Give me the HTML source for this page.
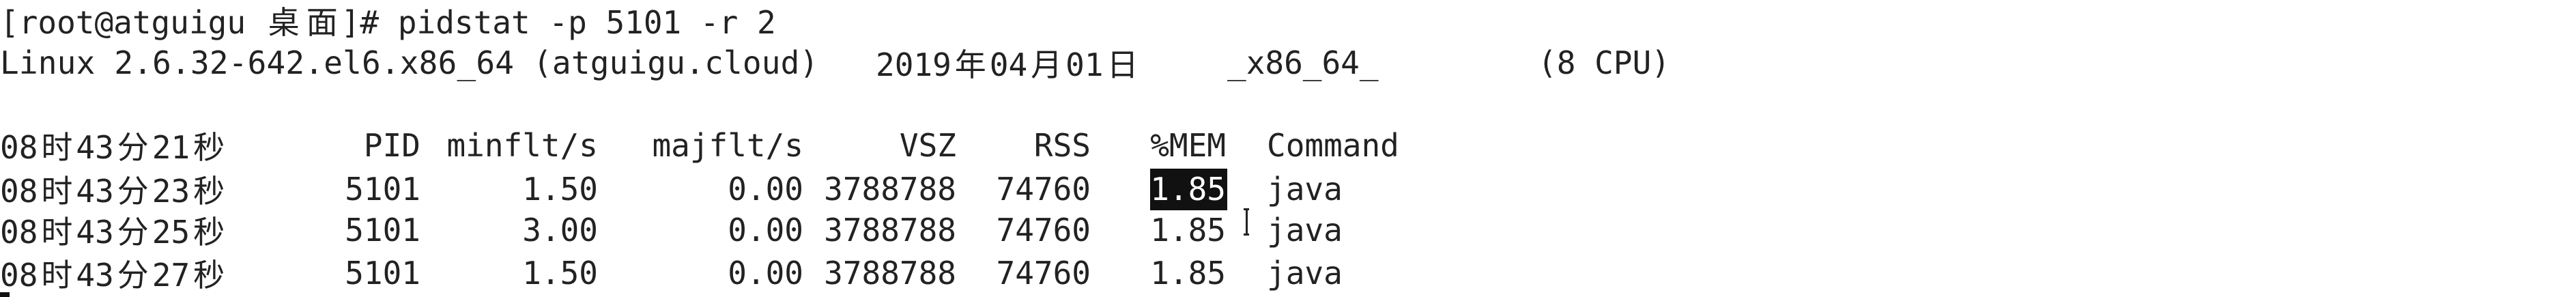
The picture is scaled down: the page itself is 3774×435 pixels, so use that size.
<!DOCTYPE html>
<html><head><meta charset="utf-8"><style>
html,body{margin:0;padding:0;background:#fff;}
body{width:3774px;height:435px;position:relative;overflow:hidden;font-family:"DejaVu Sans Mono","Liberation Mono","Noto Sans CJK SC",monospace;font-size:46px;color:#222;}
.t{position:absolute;white-space:pre;line-height:62px;height:62px;}
.r{position:absolute;white-space:pre;line-height:62px;height:62px;text-align:right;}
.cjk{font-family:"Noto Sans CJK SC","WenQuanYi Zen Hei",sans-serif;display:inline-block;width:56px;text-align:center;}
</style></head><body>
<div class="t" style="left:0;top:-1px;">[root@atguigu <span class="cjk">桌</span><span class="cjk">面</span>]# pidstat -p 5101 -r 2</div>
<div class="t" style="left:0;top:61px;letter-spacing:0.2px;">Linux 2.6.32-642.el6.x86_64 (atguigu.cloud)</div>
<div class="t" style="left:1283px;top:61px;">2019<span class="cjk">年</span>04<span class="cjk">月</span>01<span class="cjk">日</span></div>
<div class="t" style="left:1798px;top:61px;">_x86_64_</div>
<div class="t" style="left:2253px;top:61px;">(8 CPU)</div>

<div class="t" style="left:0;top:182px;">08<span class="cjk">时</span>43<span class="cjk">分</span>21<span class="cjk">秒</span></div>
<div class="r" style="right:3158px;top:182px;">PID</div>
<div class="r" style="right:2898px;top:182px;">minflt/s</div>
<div class="r" style="right:2597px;top:182px;">majflt/s</div>
<div class="r" style="right:2373px;top:182px;">VSZ</div>
<div class="r" style="right:2176px;top:182px;">RSS</div>
<div class="r" style="right:1978px;top:182px;">%MEM</div>
<div class="t" style="left:1856px;top:182px;">Command</div>

<div style="position:absolute;left:1685px;top:247px;width:113px;height:61px;background:#111;"></div>

<div class="t" style="left:0;top:246px;">08<span class="cjk">时</span>43<span class="cjk">分</span>23<span class="cjk">秒</span></div>
<div class="r" style="right:3158px;top:246px;">5101</div>
<div class="r" style="right:2898px;top:246px;">1.50</div>
<div class="r" style="right:2597px;top:246px;">0.00</div>
<div class="r" style="right:2373px;top:246px;">3788788</div>
<div class="r" style="right:2176px;top:246px;">74760</div>
<div class="r" style="right:1978px;top:246px;color:#fff;">1.85</div>
<div class="t" style="left:1856px;top:246px;">java</div>

<div class="t" style="left:0;top:306px;">08<span class="cjk">时</span>43<span class="cjk">分</span>25<span class="cjk">秒</span></div>
<div class="r" style="right:3158px;top:306px;">5101</div>
<div class="r" style="right:2898px;top:306px;">3.00</div>
<div class="r" style="right:2597px;top:306px;">0.00</div>
<div class="r" style="right:2373px;top:306px;">3788788</div>
<div class="r" style="right:2176px;top:306px;">74760</div>
<div class="r" style="right:1978px;top:306px;">1.85</div>
<div class="t" style="left:1856px;top:306px;">java</div>

<div class="t" style="left:0;top:369px;">08<span class="cjk">时</span>43<span class="cjk">分</span>27<span class="cjk">秒</span></div>
<div class="r" style="right:3158px;top:369px;">5101</div>
<div class="r" style="right:2898px;top:369px;">1.50</div>
<div class="r" style="right:2597px;top:369px;">0.00</div>
<div class="r" style="right:2373px;top:369px;">3788788</div>
<div class="r" style="right:2176px;top:369px;">74760</div>
<div class="r" style="right:1978px;top:369px;">1.85</div>
<div class="t" style="left:1856px;top:369px;">java</div>

<div style="position:absolute;left:1822px;top:305px;width:8px;height:3px;background:#222;"></div>
<div style="position:absolute;left:1825px;top:305px;width:3px;height:40px;background:#222;"></div>
<div style="position:absolute;left:1822px;top:342px;width:8px;height:3px;background:#222;"></div>
<div style="position:absolute;left:0;top:428px;width:14px;height:7px;background:#111;"></div>
</body></html>
